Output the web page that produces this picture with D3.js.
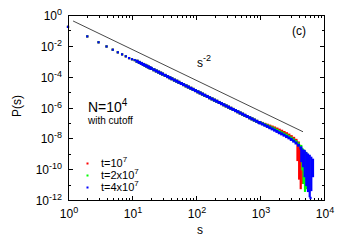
<html lang="en">
  <head>
    <meta charset="utf-8">
    <title>P(s)</title>
    <script src="https://d3js.org/d3.v7.min.js"></script>
    <style>
      body { margin: 0; background: #fff; }
      text { font-family: "Liberation Sans", Arial, helvetica, sans-serif; fill: #000; }
      .axis path { display: none; }
      .axis line { stroke: #000; shape-rendering: crispEdges; }
    </style>
  </head>
  <body>
    <script type="text/javascript">

    // common part of the three runs (they lie on top of each other below s ~ 1000)
    var sHead = [1, 2, 3, 4, 5, 6, 7, 8, 9, 10, 11, 12, 13, 14, 15, 16, 17, 18, 19, 20, 22, 24, 26, 28, 30, 33,
      36, 39, 42, 46, 50, 54, 59, 64, 70, 76, 83, 90, 98, 107, 116, 126, 137, 150, 163, 178, 194, 211, 230,
      250, 272, 296, 322, 350, 380, 414, 450, 490, 534, 580, 632, 690, 750, 815, 890, 970];
    var pHead = [1.7e-1, 4.1e-2, 1.7e-2, 9.1e-3, 5.6e-3, 3.8e-3, 2.8e-3, 2.1e-3, 1.6e-3, 1.35e-3, 1.19e-3, 1.0e-3,
      8.4e-4, 7.2e-4, 6.2e-4, 5.44e-4, 4.8e-4, 4.26e-4, 3.8e-4, 3.42e-4, 2.81e-4, 2.34e-4, 1.98e-4, 1.7e-4,
      1.47e-4, 1.21e-4, 1.01e-4, 8.5e-5, 7.3e-5, 6.0e-5, 5.1e-5, 4.3e-5, 3.6e-5, 3.04e-5, 2.52e-5, 2.13e-5,
      1.77e-5, 1.5e-5, 1.25e-5, 1.04e-5, 8.8e-6, 7.4e-6, 6.2e-6, 5.2e-6, 4.3e-6, 3.6e-6, 3.0e-6, 2.54e-6,
      2.12e-6, 1.79e-6, 1.5e-6, 1.26e-6, 1.06e-6, 8.9e-7, 7.5e-7, 6.3e-7, 5.3e-7, 4.4e-7, 3.7e-7, 3.1e-7,
      2.6e-7, 2.16e-7, 1.82e-7, 1.53e-7, 1.27e-7, 1.06e-7];

    // large-s part of each run
    var sTail = [1000, 1090, 1190, 1300, 1420, 1550, 1690, 1840, 2000, 2180, 2380, 2600, 2830, 3080, 3360, 3660,
      3990, 4350];
    var pTail1 = [1.07e-7, 9.3e-8, 8.1e-8, 7.1e-8, 6.2e-8, 5.4e-8, 4.7e-8, 4.0e-8, 3.4e-8, 2.9e-8, 2.4e-8, 2.0e-8,
      1.62e-8, 1.29e-8, 1.0e-8, 7.4e-9, 5.0e-9];
    var pTail2 = [1.05e-7, 8.9e-8, 7.6e-8, 6.5e-8, 5.5e-8, 4.7e-8, 4.0e-8, 3.3e-8, 2.75e-8, 2.3e-8, 1.9e-8,
      1.58e-8, 1.29e-8, 1.02e-8, 7.9e-9, 6.0e-9, 4.4e-9, 3.0e-9];
    var pTail3 = [1.0e-7, 8.5e-8, 7.1e-8, 5.9e-8, 4.9e-8, 4.1e-8, 3.4e-8, 2.8e-8, 2.3e-8, 1.95e-8, 1.6e-8,
      1.3e-8, 1.07e-8, 8.5e-9, 6.6e-9, 5.0e-9, 3.6e-9, 2.4e-9];

    // spread of the points near the cutoff: [s, highest P, lowest P]
    var cut1 = [[3850, 5e-9, 4e-10], [4090, 3.5e-9, 2.5e-11], [4330, 2.5e-9, 6e-12], [4600, 1.6e-9, 1.3e-11]];
    var cut2 = [[4600, 2e-9, 1e-10], [4790, 1.6e-9, 1.3e-11], [5050, 1.3e-9, 4e-12], [5330, 1e-9, 6e-12],
      [5620, 8e-10, 3e-11]];
    var cut3 = [[4420, 1.8e-9, 3.4e-10], [4700, 1.6e-9, 1.6e-10], [4990, 1.5e-9, 3.6e-11], [5290, 1.1e-9, 9.5e-12],
      [5620, 8.7e-10, 3.9e-12], [5980, 7.2e-10, 1.8e-12], [6330, 5.4e-10, 4.5e-12], [6730, 4e-10, 3.6e-11],
      [6150, 1.35e-12, 1.35e-12]];

    var seriesNames = ["t=10", "t=2x10", "t=4x10"];
    var seriesExp = ["7", "7", "7"];
    var seriesColors = ["#ff0000", "#00ff00", "#0000ff"];

    var refLineS = [1.2, 4700];   // s^-2 guide line
    var refLineC = 0.59;

    var xTicks = [1, 10, 100, 1000, 10000];
    var yTicks = [1, 1e-2, 1e-4, 1e-6, 1e-8, 1e-10, 1e-12];

    var w = 343, h = 240;
    var margin = { top: 15, right: 19, bottom: 40, left: 68 };

    var xScale = d3.scaleLog().domain([1, 1e4]).range([margin.left, w - margin.right]);
    var yScale = d3.scaleLog().domain([1e-12, 1]).range([h - margin.bottom, margin.top]);

    var svg = d3.select("body").append("svg")
      .attr("width", w)
      .attr("height", h);

    function pairs(sArr, pArr) {
      return pArr.map(function(p, i) { return [sArr[i], p]; });
    }
    var points = [
      pairs(sHead, pHead).concat(pairs(sTail, pTail1)),
      pairs(sHead, pHead).concat(pairs(sTail, pTail2)),
      pairs(sHead, pHead).concat(pairs(sTail, pTail3))
    ];
    var spreads = [cut1, cut2, cut3];

    // minor ticks
    var xMinor = [], yMinor = [];
    for (var e = 0; e < 4; e++) for (var k = 2; k < 10; k++) xMinor.push(k * Math.pow(10, e));
    for (var e2 = -11; e2 < 0; e2 += 2) yMinor.push(Math.pow(10, e2));

    var x0 = margin.left, x1 = w - margin.right, y0 = h - margin.bottom, y1 = margin.top;
    var axes = [
      { ax: d3.axisBottom(xScale), t: "translate(0," + y0 + ")", maj: xTicks, min: xMinor },
      { ax: d3.axisTop(xScale), t: "translate(0," + y1 + ")", maj: xTicks, min: xMinor },
      { ax: d3.axisLeft(yScale), t: "translate(" + x0 + ",0)", maj: yTicks, min: yMinor },
      { ax: d3.axisRight(yScale), t: "translate(" + x1 + ",0)", maj: yTicks, min: yMinor }
    ];
    axes.forEach(function(a) {
      svg.append("g").attr("class", "axis").attr("transform", a.t)
        .call(a.ax.tickValues(a.min).tickSize(-2.5).tickFormat(""));
      svg.append("g").attr("class", "axis").attr("transform", a.t)
        .call(a.ax.tickValues(a.maj).tickSize(-4.5).tickFormat(""));
    });

    // guide line s^-2
    svg.append("line")
      .attr("x1", xScale(refLineS[0])).attr("y1", yScale(refLineC / (refLineS[0] * refLineS[0])))
      .attr("x2", xScale(refLineS[1])).attr("y2", yScale(refLineC / (refLineS[1] * refLineS[1])))
      .attr("stroke", "#333").attr("stroke-width", 0.9);

    // points, red first, blue on top
    points.forEach(function(d, i) {
      var g = svg.append("g").attr("fill", seriesColors[i]);
      g.selectAll("rect.pt")
        .data(d)
        .enter()
        .append("rect")
        .attr("class", "pt")
        .attr("x", function(p) { var r = p[0] < 12 ? 1.1 : 1.5; return xScale(p[0]) - r; })
        .attr("y", function(p) { var r = p[0] < 12 ? 1.1 : 1.5; return yScale(p[1]) - r; })
        .attr("width", function(p) { return p[0] < 12 ? 2.2 : 3; })
        .attr("height", function(p) { return p[0] < 12 ? 2.2 : 3; });
      g.selectAll("rect.cut")
        .data(spreads[i])
        .enter()
        .append("rect")
        .attr("class", "cut")
        .attr("x", function(p) { return xScale(p[0]) - 1.1; })
        .attr("y", function(p) { return yScale(p[1]) - 1.2; })
        .attr("width", 2.2)
        .attr("height", function(p) { return yScale(p[2]) - yScale(p[1]) + 2.4; });
    });

    // frame
    svg.append("rect")
      .attr("x", x0).attr("y", y1)
      .attr("width", x1 - x0).attr("height", y0 - y1)
      .attr("fill", "none").attr("stroke", "#000").attr("shape-rendering", "crispEdges");

    function powLabel(g, base, exp, bigSize, smallSize, rise) {
      g.append("tspan").text(base).style("font-size", bigSize + "px");
      g.append("tspan").text(exp).attr("dy", -rise).style("font-size", smallSize + "px");
    }

    xTicks.forEach(function(v) {
      var t = svg.append("text")
        .attr("x", xScale(v) + 1)
        .attr("y", y0 + 18)
        .style("text-anchor", "middle");
      powLabel(t, "10", String(Math.round(Math.log10(v))), 12, 9, 5);
    });
    yTicks.forEach(function(v) {
      var t = svg.append("text")
        .attr("x", x0 - 6)
        .attr("y", yScale(v) + 5)
        .style("text-anchor", "end");
      powLabel(t, "10", String(Math.round(Math.log10(v))), 12, 9, 5);
    });

    svg.append("text").attr("x", 197).attr("y", 234).style("font-size", "12px").text("s");
    svg.append("text")
      .attr("transform", "translate(21," + 106 + ") rotate(-90)")
      .style("text-anchor", "middle").style("font-size", "12px").text("P(s)");

    svg.append("text").attr("x", 292).attr("y", 35).style("font-size", "12px").text("(c)");

    var sl = svg.append("text").attr("x", 197).attr("y", 67);
    powLabel(sl, "s", "-2", 12, 9, 6);

    var nl = svg.append("text").attr("x", 88).attr("y", 112);
    powLabel(nl, "N=10", "4", 14, 10, 6);
    svg.append("text").attr("x", 88).attr("y", 124).style("font-size", "10px").text("with cutoff");

    // legend
    seriesNames.forEach(function(name, i) {
      var by = 167 + i * 12;
      svg.append("rect")
        .attr("x", 86.5).attr("y", by - 4.5)
        .attr("width", 2).attr("height", 2)
        .attr("fill", seriesColors[i]);
      var t = svg.append("text").attr("x", 101).attr("y", by);
      powLabel(t, name, seriesExp[i], 11, 8, 5);
    });

    </script>
  </body>
</html>
